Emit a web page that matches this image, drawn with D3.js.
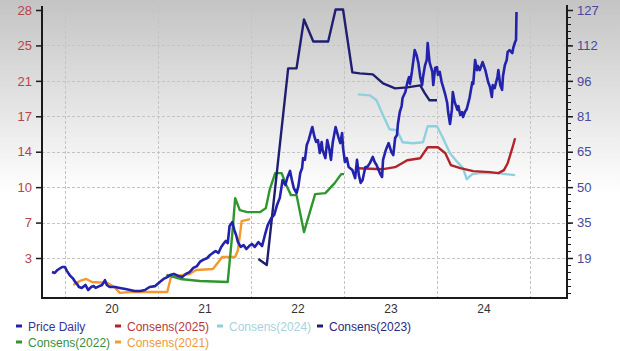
<!DOCTYPE html>
<html lang="en">
<head>
<meta charset="UTF-8">
<title>Price and Consensus</title>
<style>
  body, html { margin: 0; padding: 0; background: #fff; }
  svg { display: block; font-family: "Liberation Sans", Arial, sans-serif; }
</style>
</head>
<body>
<svg id="svg" width="620" height="351"></svg>
<script src="https://d3js.org/d3.v7.min.js"></script>
<script>
// ---- data (x = decimal year) ----
const yearLabels = ['20', '21', '22', '23', '24']
const yearStarts = [2020, 2021, 2022, 2023, 2024, 2025]
const leftTickLabels = ['3', '7', '10', '14', '17', '21', '25', '28']
const rightTickLabels = ['19', '35', '50', '65', '81', '96', '112', '127']

const priceDaily = [
  [2019.86, 13.3], [2019.89, 12.9], [2019.92, 14.2], [2019.97, 15.5], [2020.00, 15.5],
  [2020.02, 13.8], [2020.05, 12.0], [2020.09, 10.3], [2020.11, 9.0], [2020.13, 8.1],
  [2020.15, 6.8], [2020.18, 6.4], [2020.22, 7.7], [2020.25, 5.5], [2020.28, 6.8],
  [2020.31, 7.2], [2020.33, 6.4], [2020.37, 7.2], [2020.40, 7.7], [2020.43, 9.8],
  [2020.45, 7.7], [2020.48, 6.8], [2020.54, 6.8], [2020.59, 6.4], [2020.65, 5.9],
  [2020.70, 5.5], [2020.75, 5.1], [2020.81, 5.1], [2020.86, 5.5], [2020.91, 6.8],
  [2020.97, 7.2], [2021.02, 9.0], [2021.06, 10.3], [2021.10, 11.1], [2021.13, 12.0],
  [2021.17, 12.5], [2021.22, 11.6], [2021.26, 11.1], [2021.30, 12.5], [2021.34, 13.3],
  [2021.38, 15.1], [2021.42, 15.9], [2021.45, 17.7], [2021.48, 18.5], [2021.53, 19.4],
  [2021.56, 20.7], [2021.59, 21.6], [2021.62, 22.4], [2021.65, 21.6], [2021.68, 24.2],
  [2021.71, 25.9], [2021.73, 26.8], [2021.75, 25.9], [2021.77, 33.3], [2021.80, 35.0],
  [2021.82, 31.6], [2021.84, 29.4], [2021.86, 26.3], [2021.89, 24.2], [2021.92, 25.0],
  [2021.95, 23.3], [2021.98, 24.6], [2022.01, 25.5], [2022.04, 24.2], [2022.08, 26.3],
  [2022.12, 24.6], [2022.15, 29.4], [2022.18, 33.7], [2022.22, 36.8], [2022.25, 38.1],
  [2022.28, 42.4], [2022.31, 45.5], [2022.34, 53.3], [2022.37, 51.1], [2022.39, 54.1],
  [2022.42, 57.2], [2022.44, 53.3], [2022.46, 49.8], [2022.49, 47.6], [2022.51, 50.7],
  [2022.53, 56.3], [2022.55, 58.5], [2022.56, 62.8], [2022.58, 62.0], [2022.60, 68.5],
  [2022.62, 70.6], [2022.65, 75.0], [2022.66, 76.3], [2022.68, 72.4], [2022.70, 69.8],
  [2022.72, 70.6], [2022.74, 65.0], [2022.76, 69.8], [2022.77, 66.3], [2022.80, 62.8],
  [2022.82, 70.6], [2022.84, 67.2], [2022.86, 62.0], [2022.88, 69.8], [2022.91, 76.3],
  [2022.94, 71.9], [2022.96, 69.3], [2022.98, 73.7], [2022.99, 67.2], [2023.01, 61.1],
  [2023.03, 62.8], [2023.05, 58.9], [2023.09, 57.6], [2023.12, 54.1], [2023.14, 62.0],
  [2023.16, 55.4], [2023.18, 52.0], [2023.20, 53.3], [2023.23, 58.9], [2023.25, 58.9],
  [2023.28, 60.7], [2023.31, 63.3], [2023.33, 61.1], [2023.35, 59.8], [2023.39, 55.9],
  [2023.41, 54.6], [2023.42, 62.0], [2023.45, 66.3], [2023.48, 69.3], [2023.51, 65.4],
  [2023.53, 64.1], [2023.55, 71.5], [2023.57, 72.8], [2023.58, 77.6], [2023.60, 82.8],
  [2023.62, 85.4], [2023.63, 88.9], [2023.66, 91.5], [2023.68, 95.4], [2023.70, 98.0],
  [2023.71, 95.0], [2023.73, 100.2], [2023.75, 106.3], [2023.76, 109.7], [2023.78, 107.6],
  [2023.80, 104.1], [2023.82, 98.0], [2023.84, 94.5], [2023.85, 98.0], [2023.87, 102.8],
  [2023.89, 105.4], [2023.90, 112.8], [2023.92, 104.5], [2023.95, 100.2], [2023.96, 94.5],
  [2023.98, 101.9], [2024.00, 102.3], [2024.01, 98.9], [2024.03, 100.2], [2024.05, 95.8],
  [2024.06, 94.5], [2024.09, 90.2], [2024.11, 86.7], [2024.12, 82.8], [2024.14, 77.6],
  [2024.16, 83.7], [2024.17, 91.5], [2024.19, 87.2], [2024.22, 83.7], [2024.23, 85.4],
  [2024.25, 81.5], [2024.27, 82.8], [2024.28, 80.6], [2024.30, 82.8], [2024.32, 84.1],
  [2024.35, 88.9], [2024.38, 95.8], [2024.39, 95.0], [2024.41, 105.4], [2024.43, 101.0],
  [2024.44, 102.8], [2024.46, 101.0], [2024.48, 103.2], [2024.49, 104.5], [2024.52, 101.0],
  [2024.54, 97.6], [2024.55, 95.8], [2024.57, 93.7], [2024.59, 89.3], [2024.60, 94.5],
  [2024.62, 93.2], [2024.65, 98.0], [2024.66, 101.0], [2024.68, 94.5], [2024.70, 92.4],
  [2024.71, 98.4], [2024.73, 103.2], [2024.75, 105.4], [2024.76, 108.9], [2024.78, 109.7],
  [2024.81, 108.4], [2024.82, 110.6], [2024.84, 113.2], [2024.85, 114.1], [2024.855, 126.2]
]

const consens2025 = [
  [2023.15, 12.2], [2023.42, 12.1], [2023.55, 12.3], [2023.68, 13.0], [2023.82, 13.2],
  [2023.90, 14.3], [2024.01, 14.3], [2024.09, 13.7], [2024.15, 12.5], [2024.25, 12.2],
  [2024.39, 11.9], [2024.57, 11.8], [2024.66, 11.7], [2024.72, 12.0], [2024.76, 12.7],
  [2024.81, 14.2], [2024.84, 15.2]
]

const consens2024 = [
  [2023.15, 19.6], [2023.28, 19.5], [2023.35, 19.0], [2023.42, 17.5], [2023.49, 16.1],
  [2023.57, 16.0], [2023.63, 14.8], [2023.74, 14.7], [2023.85, 14.8], [2023.90, 16.4],
  [2024.00, 16.4], [2024.06, 15.3], [2024.14, 13.7], [2024.22, 12.8], [2024.28, 12.2],
  [2024.32, 11.1], [2024.38, 11.6], [2024.46, 11.7], [2024.65, 11.7], [2024.84, 11.5]
]

const consens2023 = [
  [2022.08, 3.1], [2022.17, 2.5], [2022.40, 22.2], [2022.49, 22.2], [2022.57, 27.1],
  [2022.67, 24.9], [2022.83, 24.9], [2022.91, 28.1], [2022.99, 28.1], [2023.09, 21.8],
  [2023.17, 21.7], [2023.31, 21.6], [2023.42, 20.7], [2023.55, 20.2], [2023.68, 20.3],
  [2023.82, 20.5], [2023.87, 19.7], [2023.92, 19.0], [2024.00, 19.0]
]

const consens2022 = [
  [2021.09, 1.5], [2021.24, 1.1], [2021.45, 0.9], [2021.75, 0.8], [2021.80, 5.7],
  [2021.83, 9.2], [2021.88, 8.0], [2021.96, 7.8], [2022.10, 7.8], [2022.16, 8.2],
  [2022.20, 10.0], [2022.26, 11.7], [2022.33, 11.7], [2022.38, 10.5], [2022.43, 9.5],
  [2022.49, 9.5], [2022.57, 5.8], [2022.63, 7.7], [2022.69, 9.6], [2022.80, 9.7],
  [2022.90, 10.7], [2022.97, 11.6], [2023.00, 11.6]
]

const consens2021 = [
  [2020.09, 0.5], [2020.16, 0.9], [2020.23, 1.1], [2020.29, 0.8], [2020.46, 0.7],
  [2020.53, 0.3], [2020.59, -0.3], [2020.70, -0.2], [2021.10, -0.2], [2021.14, 1.3],
  [2021.34, 1.6], [2021.41, 2.0], [2021.59, 2.1], [2021.65, 2.8], [2021.69, 3.3],
  [2021.83, 3.3], [2021.86, 4.0], [2021.90, 6.9], [2021.99, 7.1]
]

// consensus lines first so the price sits on top
const series = [
  { name: 'Consens(2021)', data: consens2021, color: '#f39a2e', text: '#ee9a3c', axis: 'left' },
  { name: 'Consens(2022)', data: consens2022, color: '#2f962f', text: '#3a8f3a', axis: 'left' },
  { name: 'Consens(2023)', data: consens2023, color: '#1f1f72', text: '#2a2a78', axis: 'left' },
  { name: 'Consens(2024)', data: consens2024, color: '#8fd0de', text: '#a6d2e2', axis: 'left' },
  { name: 'Consens(2025)', data: consens2025, color: '#b0242a', text: '#b33a3a', axis: 'left' },
  { name: 'Price Daily', data: priceDaily, color: '#2222ac', text: '#33339a', axis: 'right' }
]
const legendOrder = ['Price Daily', 'Consens(2025)', 'Consens(2024)', 'Consens(2023)', 'Consens(2022)', 'Consens(2021)']

// ---- layout ----
const plotL = 42, plotR = 567, plotT = 6, plotB = 298
const svg = d3.select('#svg')

const grad = svg.append('defs').append('linearGradient')
  .attr('id', 'bg').attr('x1', 0).attr('y1', 0).attr('x2', 0).attr('y2', 1)
grad.append('stop').attr('offset', '0%').attr('stop-color', '#c4c4c4')
grad.append('stop').attr('offset', '55%').attr('stop-color', '#ffffff')
svg.append('rect').attr('width', 620).attr('height', 351).attr('fill', 'url(#bg)')

const x = d3.scaleLinear().domain([2019.753, 2025.398]).range([plotL, plotR])
const yL = d3.scaleLinear().domain([3.2, 28.05]).range([258, 10])
const yR = d3.scaleLinear().domain([19.4, 127.1]).range([258, 10])

const leftVals = leftTickLabels.map((d, i) => 3.2 + i * (28.05 - 3.2) / 7)
const rightVals = rightTickLabels.map((d, i) => 19.4 + i * (127.1 - 19.4) / 7)

// grid
const grid = svg.append('g').attr('stroke', '#c4c4c4').attr('stroke-dasharray', '3,2').attr('stroke-width', 1)
grid.selectAll('.h').data(leftVals).join('line')
  .attr('x1', plotL).attr('x2', plotR)
  .attr('y1', d => Math.round(yL(d)) + 0.5).attr('y2', d => Math.round(yL(d)) + 0.5)
grid.selectAll('.v').data(yearStarts).join('line')
  .attr('x1', d => Math.round(x(d)) + 0.5).attr('x2', d => Math.round(x(d)) + 0.5)
  .attr('y1', plotT).attr('y2', plotB)

// lines
const lineFor = s => d3.line()
  .x(d => x(d[0]))
  .y(d => (s.axis === 'left' ? yL : yR)(d[1]))
svg.append('g').selectAll('path').data(series).join('path')
  .attr('d', s => lineFor(s)(s.data))
  .attr('fill', 'none')
  .attr('stroke', s => s.color)
  .attr('stroke-width', s => s.axis === 'right' ? 2.6 : 2.4)
  .attr('stroke-linejoin', 'round')

// frame
const frame = svg.append('g').attr('stroke', '#1a1a1a').attr('stroke-width', 2).attr('fill', 'none')
frame.append('line').attr('x1', plotL).attr('x2', plotL).attr('y1', plotT).attr('y2', plotB + 1)
frame.append('line').attr('x1', plotR).attr('x2', plotR).attr('y1', plotT - 1).attr('y2', plotB + 1)
frame.append('line').attr('x1', plotL - 1).attr('x2', plotR + 1).attr('y1', plotB).attr('y2', plotB)

// left axis
const leftAxis = svg.append('g').attr('transform', `translate(${plotL - 1},0)`)
  .call(d3.axisLeft(yL).tickValues(leftVals).tickSize(5).tickPadding(4)
    .tickFormat((d, i) => leftTickLabels[i]))
leftAxis.select('.domain').remove()
leftAxis.selectAll('line').attr('stroke', '#1a1a1a').attr('stroke-width', 1.5)
leftAxis.selectAll('text').attr('fill', '#b8434f').style('font-size', '13px')
  .style('font-family', '"Liberation Sans", Arial, sans-serif')

// right axis with minor ticks
const minorVals = d3.range(-5, 36).map(i => 19.4 + i * (127.1 - 19.4) / 35)
  .filter(v => yR(v) < plotB - 1 && yR(v) >= plotT)
svg.append('g').attr('transform', `translate(${plotR + 1},0)`)
  .selectAll('line').data(minorVals).join('line')
  .attr('x1', 0).attr('x2', 3)
  .attr('y1', d => Math.round(yR(d)) + 0.5).attr('y2', d => Math.round(yR(d)) + 0.5)
  .attr('stroke', '#1a1a1a').attr('stroke-width', 1)
const rightAxis = svg.append('g').attr('transform', `translate(${plotR + 1},0)`)
  .call(d3.axisRight(yR).tickValues(rightVals).tickSize(5).tickPadding(4)
    .tickFormat((d, i) => rightTickLabels[i]))
rightAxis.select('.domain').remove()
rightAxis.selectAll('line').attr('stroke', '#1a1a1a').attr('stroke-width', 1.5)
rightAxis.selectAll('text').attr('fill', '#48489c').style('font-size', '13px')
  .style('font-family', '"Liberation Sans", Arial, sans-serif')

// year labels centred in each year
const xAxis = svg.append('g').attr('transform', `translate(0,${plotB + 4})`)
  .call(d3.axisBottom(x).tickValues(yearLabels.map((d, i) => yearStarts[i] + 0.5))
    .tickSize(0).tickPadding(2).tickFormat((d, i) => yearLabels[i]))
xAxis.select('.domain').remove()
xAxis.selectAll('text').attr('fill', '#333').style('font-size', '12px')
  .style('font-family', '"Liberation Sans", Arial, sans-serif')

// legend
const legendPos = [[16, 326], [115, 326], [217, 326], [317, 326], [16, 342], [115, 342]]
const lg = svg.append('g').selectAll('g')
  .data(legendOrder.map(n => series.find(s => s.name === n)))
  .join('g')
  .attr('transform', (d, i) => `translate(${legendPos[i][0]},${legendPos[i][1]})`)
lg.append('line').attr('x1', 0).attr('x2', 6).attr('y1', 0).attr('y2', 0)
  .attr('stroke', d => d.color).attr('stroke-width', 3)
lg.append('text').attr('x', 12).attr('y', 4.5)
  .attr('fill', d => d.text).style('font-size', '12px')
  .text(d => d.name)
</script>
</body>
</html>
